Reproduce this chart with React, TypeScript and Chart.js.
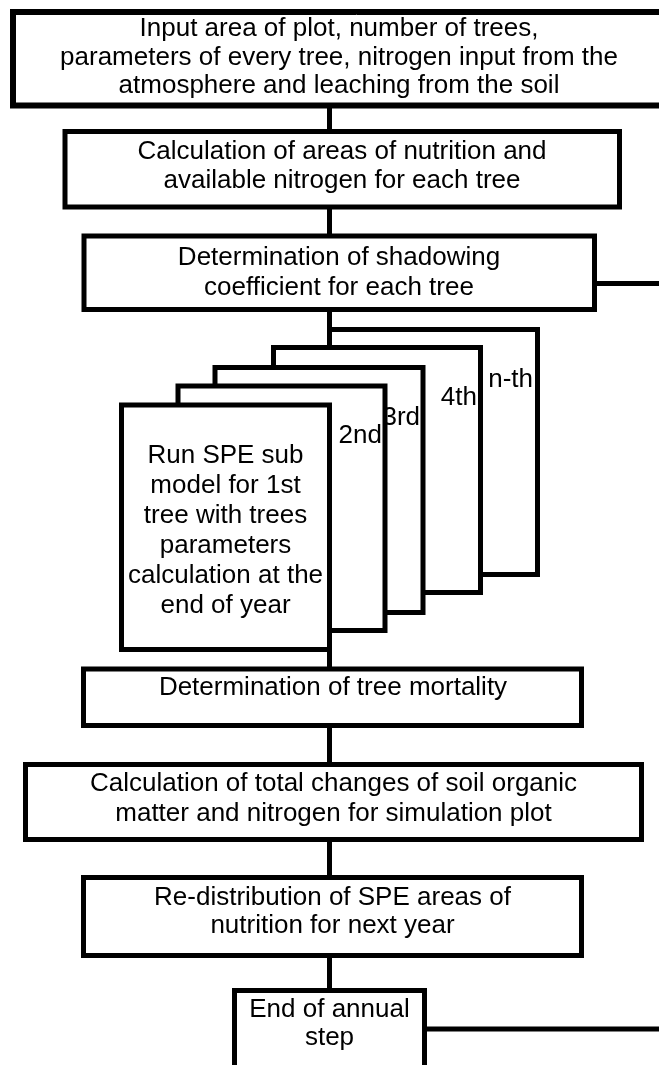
import React, { useEffect, useRef } from "react";
import { Chart, registerables } from "chart.js";

Chart.register(...registerables);

const W = 659;
const H = 1065;

// ---- text content of the flowchart ----
const inputText = [
  "Input area of plot, number of trees,",
  "parameters of every tree, nitrogen input from the",
  "atmosphere and leaching from the soil",
];
const areasText = ["Calculation of areas of nutrition and", "available nitrogen for each tree"];
const shadowText = ["Determination of shadowing", "coefficient for each tree"];
const treeOrdinals = ["n-th", "4th", "3rd", "2nd"];
const speText = [
  "Run SPE sub",
  "model for 1st",
  "tree with trees",
  "parameters",
  "calculation at the",
  "end of year",
];
const mortalityText = ["Determination of tree mortality"];
const soilText = ["Calculation of total changes of soil organic", "matter and nitrogen for simulation plot"];
const redistText = ["Re-distribution of SPE areas of", "nutrition for next year"];
const endText = ["End of annual", "step"];

// ---- layout (positions in page pixels) ----
type BoxDef = {
  rect: [number, number, number, number];
  lines: string[];
  baselines: number[];
  tx: number;
  align: CanvasTextAlign;
  width: number;
};

const FONT = '26px "Liberation Sans", Arial, Helvetica, sans-serif';
const CX = 329.5;

const boxes: BoxDef[] = [
  { rect: [13, 12, 700, 105.5], lines: inputText, baselines: [36, 64.5, 93], tx: 339, align: "center", width: 6 },
  { rect: [65, 131.5, 619.5, 207], lines: areasText, baselines: [159, 188], tx: 342, align: "center", width: 5 },
  { rect: [84, 236, 594.5, 309.5], lines: shadowText, baselines: [265, 295], tx: 339, align: "center", width: 5 },
  { rect: [CX, 329.5, 537.5, 574.5], lines: [treeOrdinals[0]], baselines: [386.5], tx: 533, align: "right", width: 5 },
  { rect: [273.5, 347.5, 480.5, 592.5], lines: [treeOrdinals[1]], baselines: [404.5], tx: 477, align: "right", width: 5 },
  { rect: [215, 367.5, 423, 612.5], lines: [treeOrdinals[2]], baselines: [424.5], tx: 420, align: "right", width: 5 },
  { rect: [178, 386, 385, 630.5], lines: [treeOrdinals[3]], baselines: [443], tx: 382, align: "right", width: 5 },
  { rect: [121.5, 405, CX, 649.5], lines: speText, baselines: [463, 493, 523, 553, 583, 613], tx: 225.5, align: "center", width: 5 },
  { rect: [83.5, 669, 581.5, 725.5], lines: mortalityText, baselines: [695], tx: 333, align: "center", width: 5 },
  { rect: [25.5, 764.5, 641.5, 839.5], lines: soilText, baselines: [791, 821], tx: 333.5, align: "center", width: 5 },
  { rect: [83.5, 877.5, 581.5, 955.5], lines: redistText, baselines: [905, 933], tx: 332.5, align: "center", width: 5 },
  { rect: [234.5, 990.5, 424.5, 1090], lines: endText, baselines: [1017, 1045], tx: 329.5, align: "center", width: 5 },
];

// connectors: [x0, y0, x1, y1]
const links: [number, number, number, number][] = [
  [CX, 105.5, CX, 131.5],
  [CX, 207, CX, 236],
  [CX, 309.5, CX, 329.5],
  [CX, 649.5, CX, 669],
  [CX, 725.5, CX, 764.5],
  [CX, 839.5, CX, 877.5],
  [CX, 955.5, CX, 990.5],
  [594.5, 283.5, 700, 283.5],
  [424.5, 1029, 700, 1029],
];

export default function App() {
  const ref = useRef<HTMLCanvasElement | null>(null);

  useEffect(() => {
    if (!ref.current) return;

    const datasets: any[] = [];
    boxes.forEach((b, i) => {
      const [x0, y0, x1, y1] = b.rect;
      const mx = (x0 + x1) / 2;
      datasets.push({
        data: [
          { x: mx, y: y0 },
          { x: x1, y: y0 },
          { x: x1, y: y1 },
          { x: x0, y: y1 },
          { x: x0, y: y0 },
          { x: mx, y: y0 },
        ],
        showLine: true,
        borderColor: "#000",
        borderWidth: b.width,
        borderJoinStyle: "miter",
        borderCapStyle: "butt",
        pointRadius: 0,
        tension: 0,
        fill: false,
        boxIndex: i,
      });
    });
    links.forEach(([x0, y0, x1, y1]) => {
      datasets.push({
        data: [
          { x: x0, y: y0 },
          { x: x1, y: y1 },
        ],
        showLine: true,
        borderColor: "#000",
        borderWidth: 5,
        borderCapStyle: "butt",
        pointRadius: 0,
        tension: 0,
        fill: false,
      });
    });
    const N = datasets.length;
    datasets.forEach((d, i) => (d.order = N - i));

    const flowPlugin = {
      id: "flowPlugin",
      beforeDraw(chart: any) {
        const ctx = chart.ctx;
        ctx.save();
        ctx.fillStyle = "#fff";
        ctx.fillRect(0, 0, chart.width, chart.height);
        ctx.restore();
      },
      beforeDatasetDraw(chart: any, args: any) {
        const ds = chart.data.datasets[args.index];
        if (ds.boxIndex === undefined) return;
        const b = boxes[ds.boxIndex];
        const xs = chart.scales.x;
        const ys = chart.scales.y;
        const [x0, y0, x1, y1] = b.rect;
        const ctx = chart.ctx;
        ctx.save();
        ctx.fillStyle = "#fff";
        const px0 = xs.getPixelForValue(x0);
        const px1 = xs.getPixelForValue(x1);
        const py0 = ys.getPixelForValue(y0);
        const py1 = ys.getPixelForValue(y1);
        ctx.fillRect(px0, py0, px1 - px0, py1 - py0);
        ctx.restore();
      },
      afterDatasetDraw(chart: any, args: any) {
        const ds = chart.data.datasets[args.index];
        if (ds.boxIndex === undefined) return;
        const b = boxes[ds.boxIndex];
        const xs = chart.scales.x;
        const ys = chart.scales.y;
        const ctx = chart.ctx;
        ctx.save();
        ctx.font = FONT;
        ctx.fillStyle = "#000";
        ctx.textAlign = b.align;
        ctx.textBaseline = "alphabetic";
        b.lines.forEach((line, k) => {
          ctx.fillText(line, xs.getPixelForValue(b.tx), ys.getPixelForValue(b.baselines[k]));
        });
        ctx.restore();
      },
    };

    const chart = new Chart(ref.current, {
      type: "scatter",
      data: { datasets },
      options: {
        animation: false,
        responsive: false,
        devicePixelRatio: 1,
        events: [],
        layout: { padding: 0 },
        plugins: { legend: { display: false }, tooltip: { enabled: false } },
        scales: {
          x: { type: "linear", min: 0, max: W, display: false },
          y: { type: "linear", min: 0, max: H, reverse: true, display: false },
        },
      },
      plugins: [flowPlugin],
    } as any);

    return () => chart.destroy();
  }, []);

  return (
    <div style={{ position: "absolute", left: 0, top: 0, width: W, height: H, background: "#fff" }}>
      <canvas ref={ref} width={W} height={H} style={{ display: "block" }} />
    </div>
  );
}
